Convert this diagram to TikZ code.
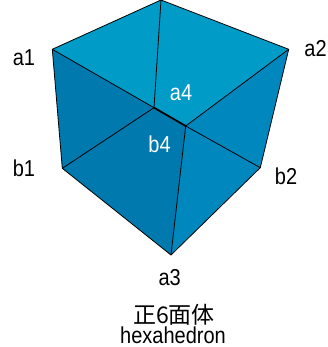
\documentclass[tikz,border=0pt]{standalone}
\usepackage{fontspec}
\setmainfont[FakeStretch=0.87]{Liberation Sans}
\newfontfamily\cjkfont{Noto Sans CJK SC}

\definecolor{topface}{RGB}{0,155,199}
\definecolor{leftface}{RGB}{0,121,174}
\definecolor{rightface}{RGB}{0,136,190}

\tikzset{
  edge/.style={line width=0.8pt, line join=round},
  label/.style={inner sep=0pt},
}

\begin{document}
\begin{tikzpicture}[x=1pt, y=-1pt, font=\fontsize{23}{26}\selectfont]
  \useasboundingbox (0,0) rectangle (327,347);
  % corners of the cube
  \coordinate (T)  at (161,0);
  \coordinate (A1) at (52.3,49.3);
  \coordinate (A2) at (288.7,49.3);
  \coordinate (A4) at (154,107.7);
  \coordinate (B4) at (185.7,126);
  \coordinate (B1) at (62.3,168.3);
  \coordinate (B2) at (260.3,167.7);
  \coordinate (A3) at (171,255);
  % faces
  \fill[topface]   (A1) -- (T) -- (A2) -- (B4) -- (A4) -- cycle;
  \fill[leftface]  (A1) -- (A4) -- (B4) -- (A3) -- (B1) -- cycle;
  \fill[rightface] (A2) -- (B2) -- (A3) -- (B4) -- cycle;
  % edges
  \draw[edge] (T) -- (A1) -- (B1) -- (A3) -- (B2) -- (A2) -- cycle;
  \draw[edge] (T) -- (A4);
  \draw[edge] (A1) -- (A4);
  \draw[edge] (A4) -- (B1);
  \draw[edge] (B4) -- (A2);
  \draw[edge] (B4) -- (B2);
  \draw[edge] (B4) -- (A3);
  \draw[line width=1.8pt] (A4) -- (B4);
  % labels
  \node[label] (la1) at (24,57.5) {a1};
  \node[label] (la2) at (315.5,48.5) {a2};
  \node[label] (lb1) at (24,168.5) {b1};
  \node[label] (lb2) at (286,176.5) {b2};
  \node[label] (la3) at (169.7,278) {a3};
  \node[label, white] (la4) at (181,93) {a4};
  \node[label, white] (lb4) at (159.5,144.5) {b4};
  \node[label] (name) at (174,314.5) {\cjkfont 正6面体};
  \node[label] (eng) at (173,335) {hexahedron};
\end{tikzpicture}
\end{document}
